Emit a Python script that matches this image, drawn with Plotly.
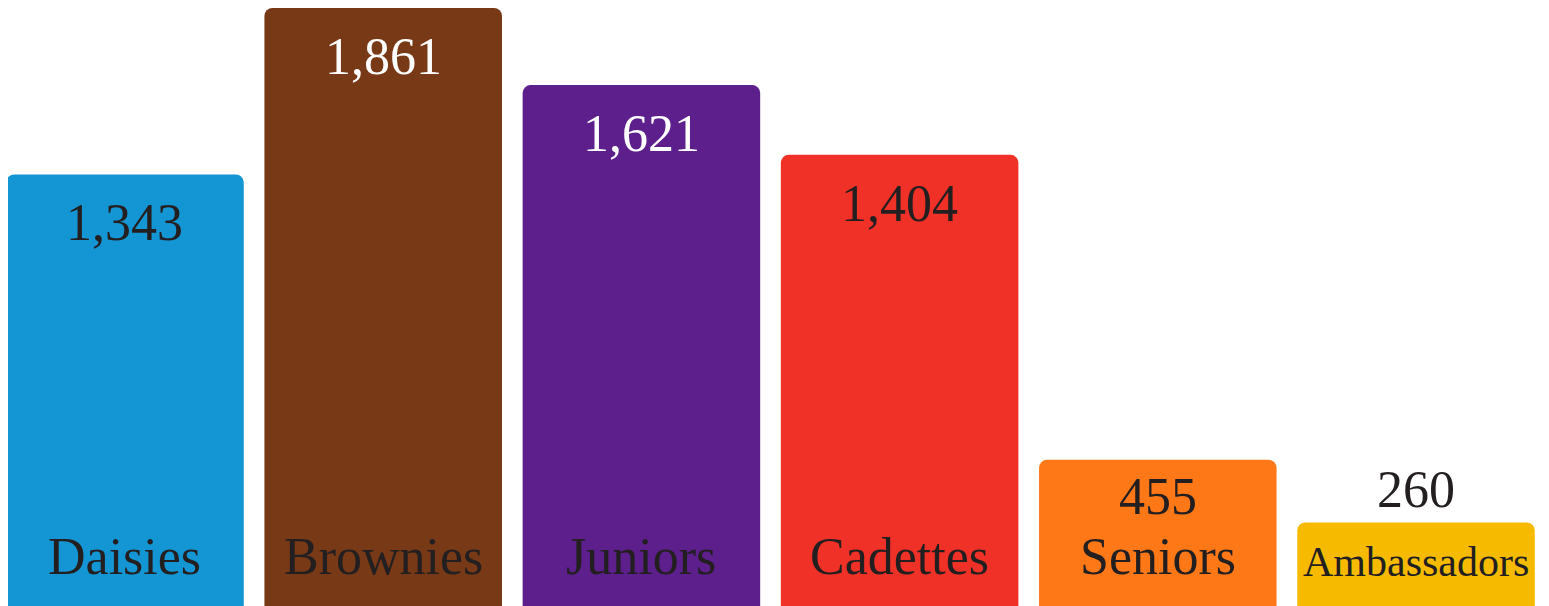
import plotly.graph_objects as go

categories = ["Daisies", "Brownies", "Juniors", "Cadettes", "Seniors", "Ambassadors"]
values = [1343, 1861, 1621, 1404, 455, 260]
colors = ["#1596d4", "#773916", "#5c1f8b", "#ef3127", "#fe7818", "#f6bb00"]
value_text_colors = ["#231f20", "#ffffff", "#ffffff", "#231f20", "#231f20", "#231f20"]
label_sizes = [52, 52, 52, 52, 52, 42]

FONT = "Liberation Serif, Times New Roman, serif"
DARK = "#231f20"
vmax = max(values)

fig = go.Figure(go.Bar(
    x=categories, y=values,
    marker=dict(color=colors, line=dict(width=0)),
    hoverinfo="skip",
))

for cat, v, tc, ls in zip(categories, values, value_text_colors, label_sizes):
    frac = v / vmax
    if frac < 0.2:
        # bar too short to hold both labels: value sits just above the bar
        fig.add_annotation(x=cat, y=v, xref="x", yref="y", yanchor="bottom", yshift=2,
                           text=f"{v:,}", showarrow=False,
                           font=dict(family=FONT, size=52, color=DARK))
    else:
        shift = -18 if frac >= 0.3 else -6
        fig.add_annotation(x=cat, y=v, xref="x", yref="y", yanchor="top", yshift=shift,
                           text=f"{v:,}", showarrow=False,
                           font=dict(family=FONT, size=52, color=tc))
    fig.add_annotation(x=cat, y=0, xref="x", yref="y", yanchor="bottom", yshift=19,
                       text=cat, showarrow=False,
                       font=dict(family=FONT, size=ls, color=DARK))

fig.update_layout(
    width=1541, height=598,
    margin=dict(l=0, r=0, t=0, b=0),
    paper_bgcolor="white", plot_bgcolor="white",
    bargap=0.08, barcornerradius=8,
    showlegend=False,
    xaxis=dict(visible=False, range=[-0.4531, 5.515]),
    yaxis=dict(visible=False, range=[0, vmax]),
)

fig.write_html("out.html")
